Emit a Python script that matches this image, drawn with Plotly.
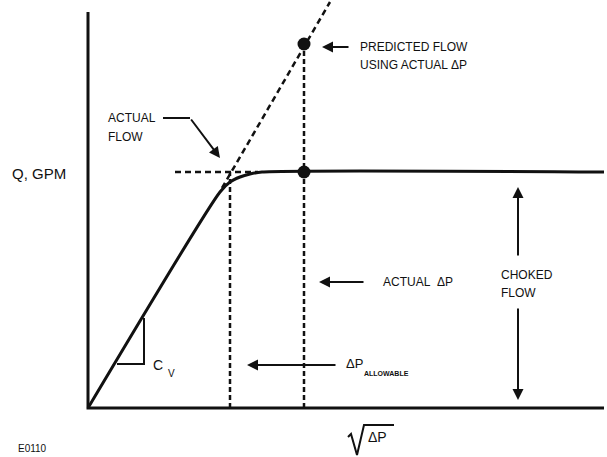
import plotly.graph_objects as go

# schematic: flow Q (GPM) vs sqrt(dP); units are arbitrary chart units
axis_x = [0, 0, 516]
axis_y = [396, 0, 0]

# actual flow curve (linear region, knee, choked plateau)
actual_sqrt_dp = [0, 132, 142, 152, 162, 174, 516]
actual_q = [0, 216, 226, 231, 234, 236, 236]

# predicted flow (extension of the linear region)
predicted_sqrt_dp = [134, 242]
predicted_q = [220, 406]

# guide lines
choked_level_x = [87, 170]
choked_level_y = [236, 236]
allowable_x = [142, 142]
allowable_y = [0, 236]
actual_dp_x = [216, 216]
actual_dp_y = [0, 364]

# points
dot_x = [216, 216]
dot_y = [364, 236]

# Cv slope triangle
cv_x = [29, 56, 56]
cv_y = [44, 44, 90]

black = "#111111"
font = "Liberation Sans, Arial, sans-serif"

fig = go.Figure()

def line(x, y, width=3, dash=None):
    fig.add_trace(go.Scatter(
        x=x, y=y, mode="lines",
        line=dict(color=black, width=width, dash=dash),
        hoverinfo="skip", showlegend=False))

line(axis_x, axis_y, 3)
line(predicted_sqrt_dp, predicted_q, 2.5, "6px,4px")
line(choked_level_x, choked_level_y, 2.5, "6px,4px")
line(allowable_x, allowable_y, 2.5, "5px,3px")
line(actual_dp_x, actual_dp_y, 2.5, "5px,3px")
fig.add_trace(go.Scatter(
    x=actual_sqrt_dp, y=actual_q, mode="lines",
    line=dict(color=black, width=3, shape="spline", smoothing=0.7),
    hoverinfo="skip", showlegend=False))
line(cv_x, cv_y, 2)
# bent leader for ACTUAL FLOW
line([75, 102], [290, 290], 2)
# radical sign for sqrt(dP)
line([260, 263, 269, 276, 306], [-29, -26, -47, -17, -17], 2)

fig.add_trace(go.Scatter(
    x=dot_x, y=dot_y, mode="markers",
    marker=dict(color=black, size=13),
    hoverinfo="skip", showlegend=False))

def text(x, y, s, size=12, anchor="left"):
    fig.add_annotation(x=x, y=y, text=s, showarrow=False, xanchor=anchor,
                       yanchor="middle", font=dict(family=font, size=size, color=black))

def arrow(x, y, ax, ay, width=2):
    fig.add_annotation(x=x, y=y, ax=ax, ay=ay, axref="x", ayref="y", text="",
                       showarrow=True, arrowhead=2, arrowsize=1.1,
                       arrowwidth=width, arrowcolor=black)

text(-49, 235, "Q, GPM", 15, "center")
text(18, 290, "ACTUAL")
text(18, 271, "FLOW")
arrow(132, 250, 102, 290)

text(270, 361, "PREDICTED FLOW")
text(270, 343, "USING ACTUAL \u0394P")
arrow(234, 361, 262, 361)

text(293, 126, "ACTUAL\u00a0\u00a0\u0394P")
arrow(231, 126, 277, 126)

text(411, 133, "CHOKED")
text(411, 115, "FLOW")
arrow(430, 221, 430, 151)
arrow(430, 8, 430, 101)

text(256, 45, "\u0394P", 13)
text(274, 35, "<b>ALLOWABLE</b>", 7)
arrow(159, 43, 249, 43)

text(63, 43, "C", 14)
text(78, 35, "V", 10)

text(-72, -40, "E0110", 10)
text(278, -29, "\u0394P", 14)

fig.update_layout(
    width=607, height=457,
    margin=dict(l=0, r=0, t=0, b=0),
    paper_bgcolor="white", plot_bgcolor="white",
    xaxis=dict(range=[-88, 519], visible=False, fixedrange=True),
    yaxis=dict(range=[-49, 408], visible=False, fixedrange=True),
    showlegend=False,
)

# drop the page's default body margin so the figure sits at the window corner
fig.write_html("out.html", config={"displayModeBar": False},
               post_script="document.body.style.margin='0';")
